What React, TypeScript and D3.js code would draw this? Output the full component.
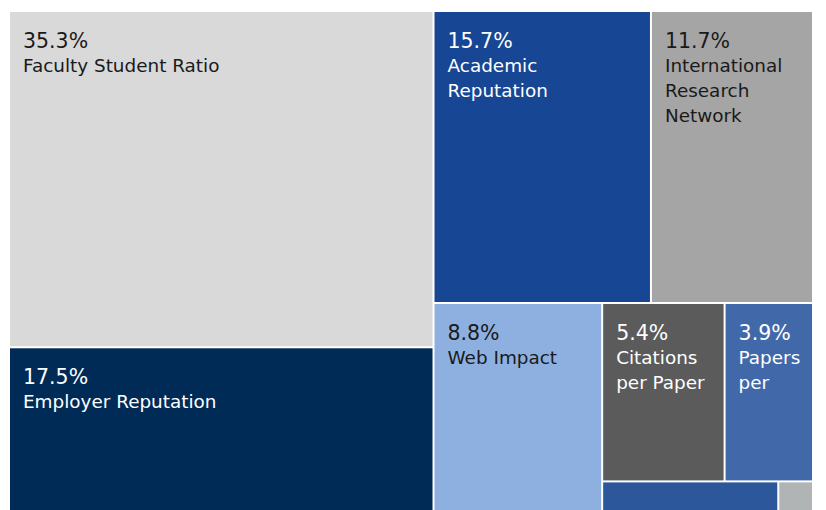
import { useEffect, useRef } from 'react';
import * as d3 from 'd3';

// indicator weights (%), in drawing order
const names = [
  'Faculty Student Ratio',
  'Employer Reputation',
  'Academic Reputation',
  'International Research Network',
  'Web Impact',
  'Citations per Paper',
  'Papers per Faculty',
  'International Faculty Ratio',
  'International Student Ratio',
];
const values = [35.3, 17.5, 15.7, 11.7, 8.8, 5.4, 3.9, 1.42, 0.28];
// label lines as they wrap in the cells (empty = too small for a label)
const labelLines = [
  ['Faculty Student Ratio'],
  ['Employer Reputation'],
  ['Academic', 'Reputation'],
  ['International', 'Research', 'Network'],
  ['Web Impact'],
  ['Citations', 'per Paper'],
  ['Papers', 'per'],
  [],
  [],
];
const colors = ['#d9d9d9', '#002b57', '#174694', '#a5a5a5', '#8eb0e0', '#5b5b5b', '#4169aa', '#2c579b', '#b1b4b4'];
const textColors = ['#1a1a1a', '#fff', '#fff', '#1a1a1a', '#1a1a1a', '#fff', '#fff', '#fff', '#1a1a1a'];

interface Leaf {
  name: string;
  value: number;
  lines: string[];
  color: string;
  text: string;
}

const App: React.FC = () => {
  const ref = useRef<SVGSVGElement | null>(null);

  useEffect(() => {
    const width = 826;
    const height = 510;
    const box = { left: 10, top: 12, right: 812, bottom: 513 };

    const svg = d3.select(ref.current);
    svg.selectAll('*').remove();
    svg.attr('width', width).attr('height', height);

    const leaves: Leaf[] = names.map((n, i) => ({
      name: n,
      value: values[i],
      lines: labelLines[i],
      color: colors[i],
      text: textColors[i],
    }));

    const root = d3
      .hierarchy<any>({ children: leaves })
      .sum((d: any) => d.value || 0);

    d3.treemap<any>()
      .tile(d3.treemapSquarify)
      .size([box.right - box.left, box.bottom - box.top])
      .paddingInner(2)(root);

    const g = svg.append('g').attr('transform', `translate(${box.left},${box.top})`);

    const cell = g
      .selectAll('g.cell')
      .data(root.leaves() as d3.HierarchyRectangularNode<any>[])
      .join('g')
      .attr('class', 'cell')
      .attr('transform', (d) => `translate(${d.x0},${d.y0})`);

    cell
      .append('rect')
      .attr('width', (d) => d.x1 - d.x0)
      .attr('height', (d) => d.y1 - d.y0)
      .attr('fill', (d) => d.data.color);

    const labelled = cell.filter((d) => d.data.lines.length > 0);

    // percentage, a bit larger than the name
    labelled
      .append('text')
      .attr('x', 13)
      .attr('y', 36)
      .attr('font-family', 'Verdana, "DejaVu Sans", sans-serif')
      .attr('font-size', 20.5)
      .attr('fill', (d) => d.data.text)
      .text((d) => `${d.data.value.toFixed(1)}%`);

    labelled
      .append('text')
      .attr('font-family', 'Verdana, "DejaVu Sans", sans-serif')
      .attr('font-size', 18.4)
      .attr('fill', (d) => d.data.text)
      .selectAll('tspan')
      .data((d) => d.data.lines as string[])
      .join('tspan')
      .attr('x', 13)
      .attr('y', (_, i) => 60 + i * 25)
      .text((t) => t);
  }, []);

  return <svg ref={ref} style={{ position: 'absolute', left: 0, top: 0 }}></svg>;
};

export default App;
